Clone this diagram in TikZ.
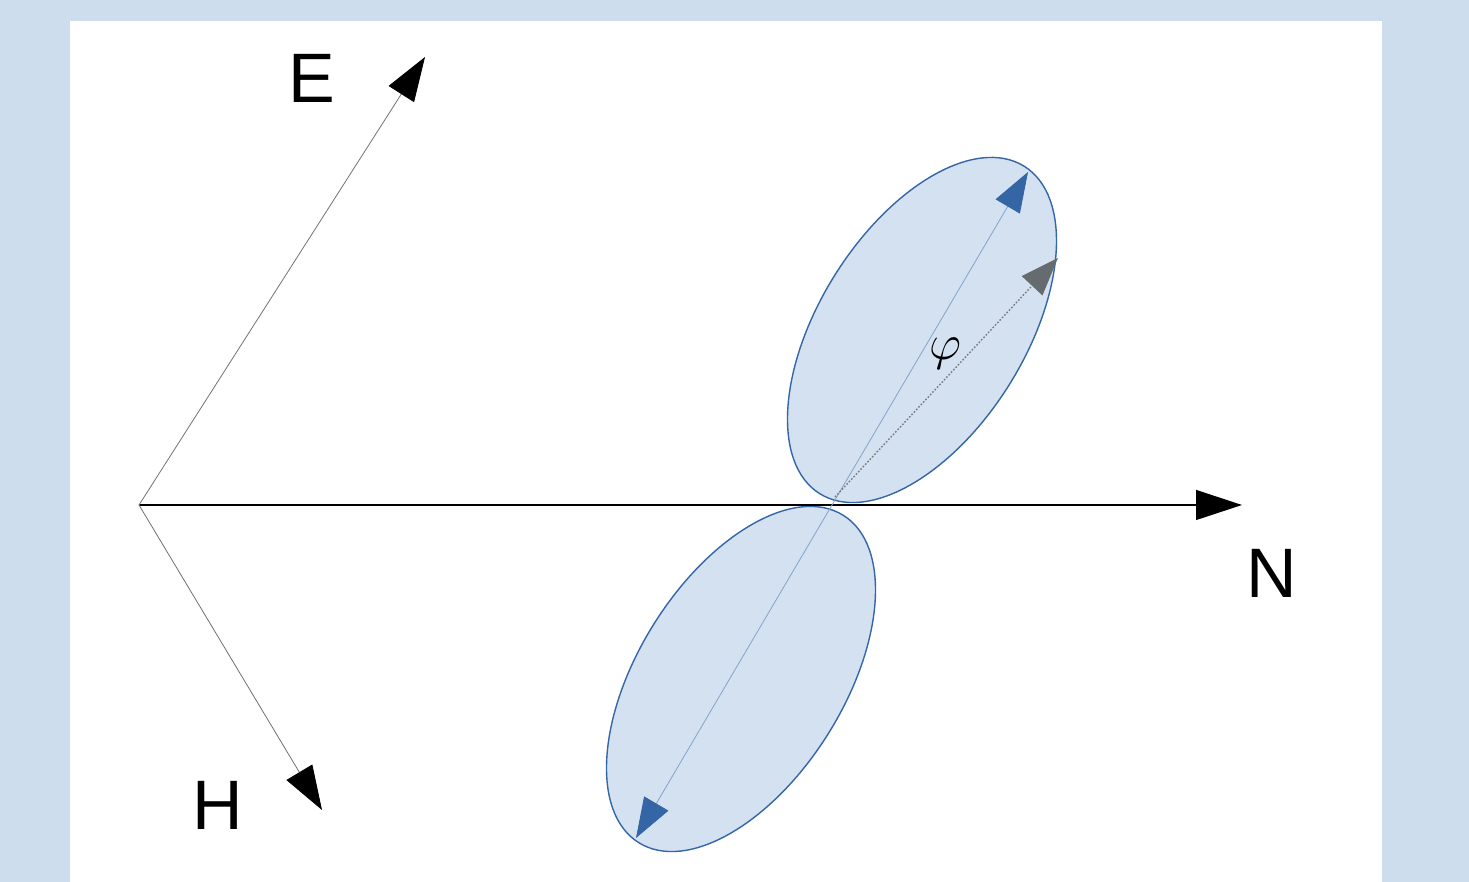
\documentclass[tikz,border=0pt]{standalone}
\usepackage{fontspec}
\setmainfont{Liberation Sans}
\usetikzlibrary{arrows.meta,calc}
\definecolor{panelblue}{HTML}{CEDDEE}
\definecolor{lobefill}{HTML}{D3E1F1}
\definecolor{lobeline}{HTML}{3566A8}
\definecolor{dipolecol}{HTML}{3465A4}
\definecolor{polgray}{HTML}{666B70}
\tikzset{axis/.style={-{Triangle[length=23pt,width=15pt]},line width=0.6pt},
 field/.style={-{Triangle[length=22pt,width=15pt,color=black]},line width=0.4pt,draw=black!55},
 lobe/.style={draw=lobeline,fill=lobefill,line width=0.7pt},
 dipole/.style={{Triangle[length=20pt,width=14pt,color=dipolecol]}-{Triangle[length=20pt,width=14pt,color=dipolecol]},line width=0.4pt,draw=dipolecol!60},
 pol/.style={-{Triangle[length=19pt,width=14pt,color=polgray]},line width=0.7pt,draw=polgray!90,dash pattern=on 0.8pt off 0.9pt},
 axlabel/.style={font=\fontsize{35}{35}\selectfont,inner sep=0pt}}

\begin{document}
\begin{tikzpicture}[x=0.5pt,y=0.5pt]
\fill[panelblue] (0,0) rectangle (1469,882);
\fill[white] (70,0) rectangle (1382,861);
\useasboundingbox (0,0) rectangle (1469,882);
% radiation lobes
\draw[lobe,rotate around={58:(922,552)}] (922,552) ellipse [x radius=193,y radius=103];
\draw[lobe,rotate around={58:(741,203)}] (741,203) ellipse [x radius=193,y radius=103];
% axes
\coordinate (origin) at (139,377);
\coordinate (ntip) at (1242,377);
\coordinate (etip) at (425,825);
\coordinate (htip) at (322,72);
\draw[axis] (origin) -- (ntip);
\draw[field] (origin) -- (etip);
\draw[field] (origin) -- (htip);
\node[axlabel] (nlab) at (1272,309) {N};
\node[axlabel] (elab) at (312,804) {E};
\node[axlabel] (hlab) at (218,77) {H};
% dipole and polarisation
\coordinate (dipbot) at (636,44);
\coordinate (diptop) at (1028,710);
\coordinate (polfoot) at (835,385);
\coordinate (poltip) at (1058,624);
\draw[dipole] (dipbot) -- (diptop);
\draw[pol] (polfoot) -- (poltip);
\node[font=\fontsize{28}{28}\selectfont,inner sep=0pt] (philab) at (945,528) {$\varphi$};
\end{tikzpicture}
\end{document}
